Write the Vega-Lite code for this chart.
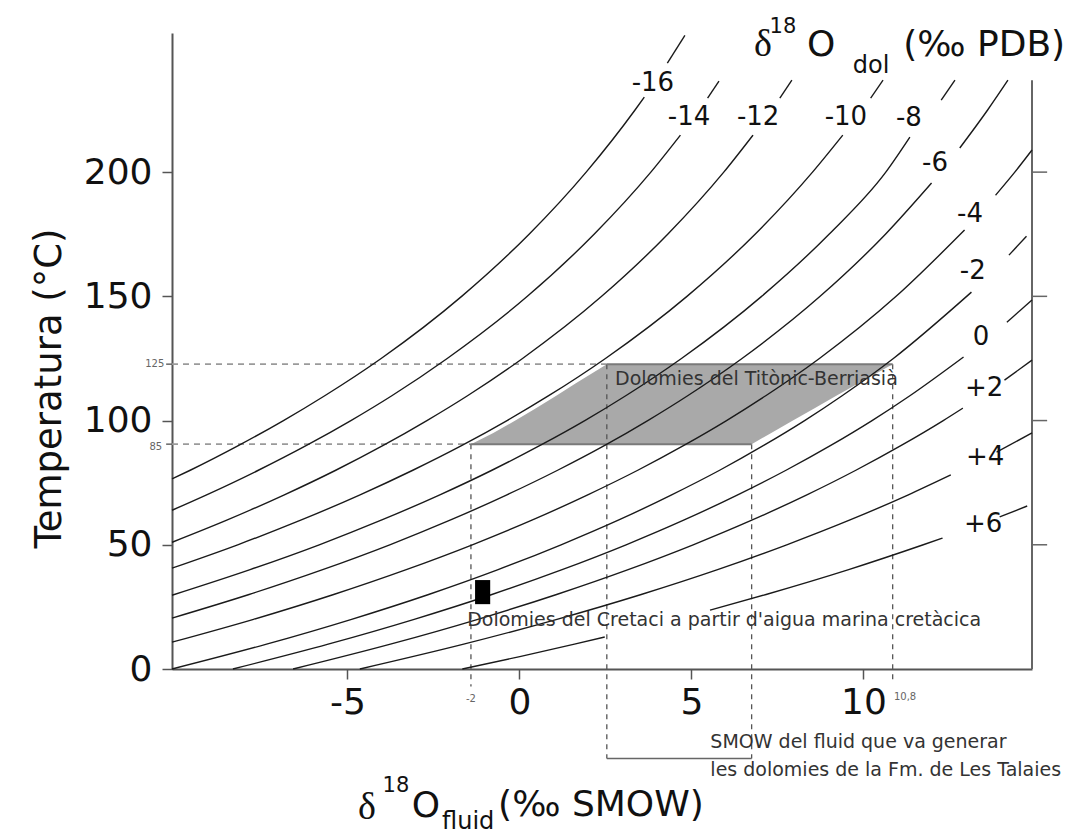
{
  "$schema": "https://vega.github.io/schema/vega-lite/v6.json",
  "width": 860,
  "height": 636,
  "autosize": {"type": "none"},
  "padding": {"left": 172, "top": 33, "right": 38, "bottom": 171},
  "background": "white",
  "config": {"view": {"stroke": null}, "text": {"font": "DejaVu Sans"}},
  "encoding": {
    "x": {"field": "x", "type": "quantitative",
      "scale": {"domain": [-10.1, 14.9], "nice": false, "zero": false},
      "axis": {"values": [-5, 0, 5, 10], "title": null, "grid": false, "tickSize": 10, "labelPadding": 6,
        "labelExpr": "datum.value < 0 ? '-' + abs(datum.value) : datum.label",
        "labelFontSize": 36, "labelFont": "DejaVu Sans", "labelColor": "#111", "domainColor": "#555",
        "domainWidth": 2, "tickColor": "#555", "tickWidth": 1.5, "labelFlush": false}},
    "y": {"field": "T", "type": "quantitative",
      "scale": {"domain": [0, 256], "nice": false, "zero": false},
      "axis": {"values": [0, 50, 100, 150, 200], "title": "Temperatura (°C)", "grid": false, "tickSize": 10,
        "labelPadding": 10, "labelFontSize": 36, "labelFont": "DejaVu Sans", "labelColor": "#111",
        "domainColor": "#555", "domainWidth": 2, "tickColor": "#555", "tickWidth": 1.5,
        "titleFont": "DejaVu Sans", "titleFontSize": 37, "titleFontWeight": "normal", "titleColor": "#111",
        "titleX": -112, "titleY": 355, "titleBaseline": "alphabetic", "titleAngle": -90, "labelFlush": false}}
  },
  "layer": [
    {
      "data": {"values": [
        {"T": 90.5, "x": -1.41, "x2": 6.75},
        {"T": 95, "x": -0.76, "x2": 7.32},
        {"T": 100, "x": -0.12, "x2": 7.95},
        {"T": 105, "x": 0.48, "x2": 8.58},
        {"T": 110, "x": 1.07, "x2": 9.21},
        {"T": 115, "x": 1.64, "x2": 9.86},
        {"T": 122.7, "x": 2.54, "x2": 10.85}
      ]},
      "mark": {"type": "area", "orient": "horizontal", "color": "#a9a9a9", "opacity": 1},
      "encoding": {"x2": {"field": "x2"}}
    },
    {
      "data": {"values": [
        {"x": -10.1, "x2": 2.54, "T": 122.7},
        {"x": -10.1, "x2": -1.41, "T": 90.5}
      ]},
      "mark": {"type": "rule", "color": "#9a9a9a", "strokeWidth": 1.6, "strokeDash": [6, 5]},
      "encoding": {"x2": {"field": "x2"}}
    },
    {
      "data": {"values": [
        {"x": -1.41, "T": 90.5, "T2": -7},
        {"x": 2.54, "T": 122.7, "T2": -36},
        {"x": 6.75, "T": 90.5, "T2": -36},
        {"x": 10.85, "T": 122.7, "T2": -5}
      ]},
      "mark": {"type": "rule", "color": "#555", "strokeWidth": 1.3, "strokeDash": [5, 5]},
      "encoding": {"y2": {"field": "T2"}}
    },
    {
      "data": {"values": [{"x": 2.54, "x2": 6.75, "T": -36}]},
      "mark": {"type": "rule", "color": "#666", "strokeWidth": 1.5},
      "encoding": {"x2": {"field": "x2"}}
    },
    {
      "data": {"values": [
        {"x": 2.54, "x2": 10.85, "T": 122.7},
        {"x": -1.41, "x2": 6.75, "T": 90.5}
      ]},
      "mark": {"type": "rule", "color": "#7a7a7a", "strokeWidth": 2},
      "encoding": {"x2": {"field": "x2"}}
    },
    {
      "data": {"values": [{"x": 14.9, "T": 0, "T2": 237}]},
      "mark": {"type": "rule", "color": "#666", "strokeWidth": 2},
      "encoding": {"y2": {"field": "T2"}}
    },
    {
      "data": {"values": [
        {"x": 14.9, "x2": 15.34, "T": 50},
        {"x": 14.9, "x2": 15.34, "T": 100},
        {"x": 14.9, "x2": 15.34, "T": 150},
        {"x": 14.9, "x2": 15.34, "T": 200},
        {"x": -10.27, "x2": -10.1, "T": 122.7},
        {"x": -10.27, "x2": -10.1, "T": 90.5}
      ]},
      "mark": {"type": "rule", "color": "#666", "strokeWidth": 1.5},
      "encoding": {"x2": {"field": "x2"}}
    },
    {
      "data": {"values": [
        {"k": "m16a", "x": -10.1, "T": 76.5}, {"k": "m16a", "x": -9.57, "T": 80}, {"k": "m16a", "x": -8.16, "T": 90}, {"k": "m16a", "x": -6.86, "T": 100}, {"k": "m16a", "x": -5.66, "T": 110}, {"k": "m16a", "x": -4.02, "T": 125}, {"k": "m16a", "x": -1.68, "T": 150}, {"k": "m16a", "x": 0.28, "T": 175}, {"k": "m16a", "x": 1.94, "T": 200}, {"k": "m16a", "x": 3.36, "T": 225}, {"k": "m16a", "x": 3.63, "T": 230.2},
        {"k": "m16b", "x": 4.3, "T": 243.9}, {"k": "m16b", "x": 4.81, "T": 255},
        {"k": "m14a", "x": -10.1, "T": 63.9}, {"k": "m14a", "x": -9.11, "T": 70}, {"k": "m14a", "x": -7.59, "T": 80}, {"k": "m14a", "x": -6.19, "T": 90}, {"k": "m14a", "x": -4.9, "T": 100}, {"k": "m14a", "x": -3.71, "T": 110}, {"k": "m14a", "x": -2.1, "T": 125}, {"k": "m14a", "x": 0.23, "T": 150}, {"k": "m14a", "x": 2.17, "T": 175}, {"k": "m14a", "x": 3.82, "T": 200}, {"k": "m14a", "x": 4.68, "T": 214.9},
        {"k": "m14b", "x": 5.47, "T": 229.8}, {"k": "m14b", "x": 5.8, "T": 236.6},
        {"k": "m12a", "x": -10.1, "T": 51}, {"k": "m12a", "x": -8.49, "T": 60}, {"k": "m12a", "x": -6.85, "T": 70}, {"k": "m12a", "x": -5.34, "T": 80}, {"k": "m12a", "x": -3.96, "T": 90}, {"k": "m12a", "x": -2.69, "T": 100}, {"k": "m12a", "x": -1.51, "T": 110}, {"k": "m12a", "x": 0.09, "T": 125}, {"k": "m12a", "x": 2.39, "T": 150}, {"k": "m12a", "x": 4.31, "T": 175}, {"k": "m12a", "x": 5.94, "T": 200}, {"k": "m12a", "x": 6.79, "T": 214.9},
        {"k": "m12b", "x": 7.57, "T": 229.8}, {"k": "m12b", "x": 7.92, "T": 237},
        {"k": "m10a", "x": -10.1, "T": 40.6}, {"k": "m10a", "x": -8.19, "T": 50}, {"k": "m10a", "x": -6.34, "T": 60}, {"k": "m10a", "x": -4.65, "T": 70}, {"k": "m10a", "x": -3.1, "T": 80}, {"k": "m10a", "x": -1.67, "T": 90}, {"k": "m10a", "x": -0.36, "T": 100}, {"k": "m10a", "x": 0.85, "T": 110}, {"k": "m10a", "x": 2.5, "T": 125}, {"k": "m10a", "x": 4.87, "T": 150}, {"k": "m10a", "x": 6.85, "T": 175}, {"k": "m10a", "x": 8.52, "T": 200}, {"k": "m10a", "x": 9.4, "T": 214.9},
        {"k": "m10b", "x": 10.21, "T": 229.8}, {"k": "m10b", "x": 10.57, "T": 237},
        {"k": "m8a", "x": -10.1, "T": 29.7}, {"k": "m8a", "x": -7.83, "T": 40}, {"k": "m8a", "x": -5.82, "T": 50}, {"k": "m8a", "x": -4.0, "T": 60}, {"k": "m8a", "x": -2.33, "T": 70}, {"k": "m8a", "x": -0.8, "T": 80}, {"k": "m8a", "x": 0.6, "T": 90}, {"k": "m8a", "x": 1.9, "T": 100}, {"k": "m8a", "x": 3.09, "T": 110}, {"k": "m8a", "x": 4.71, "T": 125}, {"k": "m8a", "x": 7.04, "T": 150}, {"k": "m8a", "x": 9.0, "T": 175}, {"k": "m8a", "x": 10.65, "T": 200}, {"k": "m8a", "x": 11.35, "T": 214.1},
        {"k": "m8b", "x": 12.26, "T": 229}, {"k": "m8b", "x": 12.66, "T": 237},
        {"k": "m6a", "x": -10.1, "T": 20.5}, {"k": "m6a", "x": -7.86, "T": 30}, {"k": "m6a", "x": -5.72, "T": 40}, {"k": "m6a", "x": -3.77, "T": 50}, {"k": "m6a", "x": -2.0, "T": 60}, {"k": "m6a", "x": -0.38, "T": 70}, {"k": "m6a", "x": 1.11, "T": 80}, {"k": "m6a", "x": 2.48, "T": 90}, {"k": "m6a", "x": 3.73, "T": 100}, {"k": "m6a", "x": 4.89, "T": 110}, {"k": "m6a", "x": 6.47, "T": 125}, {"k": "m6a", "x": 8.74, "T": 150}, {"k": "m6a", "x": 10.64, "T": 175}, {"k": "m6a", "x": 11.98, "T": 195.6},
        {"k": "m6b", "x": 12.8, "T": 209.7}, {"k": "m6b", "x": 13.61, "T": 225}, {"k": "m6b", "x": 14.2, "T": 237},
        {"k": "m4a", "x": -10.1, "T": 10.8}, {"k": "m4a", "x": -7.73, "T": 20}, {"k": "m4a", "x": -5.4, "T": 30}, {"k": "m4a", "x": -3.29, "T": 40}, {"k": "m4a", "x": -1.37, "T": 50}, {"k": "m4a", "x": 0.38, "T": 60}, {"k": "m4a", "x": 1.97, "T": 70}, {"k": "m4a", "x": 3.44, "T": 80}, {"k": "m4a", "x": 4.78, "T": 90}, {"k": "m4a", "x": 6.02, "T": 100}, {"k": "m4a", "x": 7.16, "T": 110}, {"k": "m4a", "x": 8.72, "T": 125}, {"k": "m4a", "x": 10.95, "T": 150}, {"k": "m4a", "x": 12.94, "T": 176.7},
        {"k": "m4b", "x": 13.84, "T": 190.7}, {"k": "m4b", "x": 14.4, "T": 200}, {"k": "m4b", "x": 14.9, "T": 208.9},
        {"k": "m2a", "x": -10.1, "T": 0}, {"k": "m2a", "x": -7.35, "T": 10}, {"k": "m2a", "x": -4.88, "T": 20}, {"k": "m2a", "x": -2.64, "T": 30}, {"k": "m2a", "x": -0.62, "T": 40}, {"k": "m2a", "x": 1.21, "T": 50}, {"k": "m2a", "x": 2.89, "T": 60}, {"k": "m2a", "x": 4.41, "T": 70}, {"k": "m2a", "x": 5.82, "T": 80}, {"k": "m2a", "x": 7.1, "T": 90}, {"k": "m2a", "x": 8.29, "T": 100}, {"k": "m2a", "x": 9.38, "T": 110}, {"k": "m2a", "x": 10.87, "T": 125}, {"k": "m2a", "x": 13.14, "T": 151.7},
        {"k": "m2b", "x": 14.23, "T": 166.6}, {"k": "m2b", "x": 14.74, "T": 174.2},
        {"k": "z0a", "x": -8.33, "T": 0}, {"k": "z0a", "x": -5.56, "T": 10}, {"k": "z0a", "x": -3.06, "T": 20}, {"k": "z0a", "x": -0.8, "T": 30}, {"k": "z0a", "x": 1.24, "T": 40}, {"k": "z0a", "x": 3.1, "T": 50}, {"k": "z0a", "x": 4.79, "T": 60}, {"k": "z0a", "x": 6.33, "T": 70}, {"k": "z0a", "x": 7.75, "T": 80}, {"k": "z0a", "x": 9.05, "T": 90}, {"k": "z0a", "x": 10.25, "T": 100}, {"k": "z0a", "x": 11.35, "T": 110}, {"k": "z0a", "x": 12.91, "T": 125.6},
        {"k": "z0b", "x": 14.17, "T": 139.6}, {"k": "z0b", "x": 14.9, "T": 148.5},
        {"k": "p2a", "x": -6.58, "T": 0}, {"k": "p2a", "x": -3.75, "T": 10}, {"k": "p2a", "x": -1.21, "T": 20}, {"k": "p2a", "x": 1.08, "T": 30}, {"k": "p2a", "x": 3.16, "T": 40}, {"k": "p2a", "x": 5.05, "T": 50}, {"k": "p2a", "x": 6.77, "T": 60}, {"k": "p2a", "x": 8.34, "T": 70}, {"k": "p2a", "x": 9.78, "T": 80}, {"k": "p2a", "x": 11.1, "T": 90}, {"k": "p2a", "x": 12.32, "T": 100}, {"k": "p2a", "x": 12.89, "T": 105},
        {"k": "p2b", "x": 14.1, "T": 116.3}, {"k": "p2b", "x": 14.9, "T": 124.3},
        {"k": "p4a", "x": -4.64, "T": 0}, {"k": "p4a", "x": -1.62, "T": 10}, {"k": "p4a", "x": 1.09, "T": 20}, {"k": "p4a", "x": 3.54, "T": 30}, {"k": "p4a", "x": 5.76, "T": 40}, {"k": "p4a", "x": 7.77, "T": 50}, {"k": "p4a", "x": 9.61, "T": 60}, {"k": "p4a", "x": 11.29, "T": 70}, {"k": "p4a", "x": 12.54, "T": 78.1},
        {"k": "p4b", "x": 13.87, "T": 87.3}, {"k": "p4b", "x": 14.9, "T": 95},
        {"k": "p6a", "x": -1.66, "T": 0}, {"k": "p6a", "x": 0.01, "T": 5}, {"k": "p6a", "x": 1.6, "T": 10}, {"k": "p6a", "x": 2.48, "T": 12.9},
        {"k": "p6b", "x": 5.54, "T": 23.7}, {"k": "p6b", "x": 7.17, "T": 30}, {"k": "p6b", "x": 9.57, "T": 40}, {"k": "p6b", "x": 11.74, "T": 50}, {"k": "p6b", "x": 12.3, "T": 52.7},
        {"k": "p6c", "x": 13.96, "T": 61.2}, {"k": "p6c", "x": 14.76, "T": 65.6}
      ]},
      "mark": {"type": "line", "color": "#1a1a1a", "strokeWidth": 1.4, "interpolate": "monotone"},
      "encoding": {"detail": {"field": "k"}}
    },
    {
      "data": {"values": [{"x": -1.29, "x2": -0.85, "T": 26.1, "T2": 35.8}]},
      "mark": {"type": "rect", "color": "#000"},
      "encoding": {"x2": {"field": "x2"}, "y2": {"field": "T2"}}
    },
    {
      "data": {"values": [
        {"x": 3.88, "T": 235.8, "t": "-16"}, {"x": 4.93, "T": 222.1, "t": "-14"}, {"x": 6.94, "T": 222.1, "t": "-12"},
        {"x": 9.49, "T": 222.1, "t": "-10"}, {"x": 11.32, "T": 221.7, "t": "-8"}, {"x": 12.08, "T": 203.6, "t": "-6"},
        {"x": 13.1, "T": 183.1, "t": "-4"}, {"x": 13.18, "T": 160.2, "t": "-2"}, {"x": 13.42, "T": 133.6, "t": "0"},
        {"x": 13.51, "T": 113.1, "t": "+2"}, {"x": 13.54, "T": 85.3, "t": "+4"}, {"x": 13.48, "T": 58.4, "t": "+6"}
      ]},
      "mark": {"type": "text", "fontSize": 26, "color": "#111"},
      "encoding": {"text": {"field": "t"}}
    },
    {
      "data": {"values": [
        {"x": 2.78, "T": 116.7, "t": "Dolomies del Titònic-Berriasià"},
        {"x": -1.52, "T": 19.7, "t": "Dolomies del Cretaci a partir d'aigua marina cretàcica"},
        {"x": 5.55, "T": -29.2, "t": "SMOW del fluid que va generar"},
        {"x": 5.55, "T": -40.6, "t": "les dolomies de la Fm. de Les Talaies"}
      ]},
      "mark": {"type": "text", "fontSize": 19, "align": "left", "color": "#333"},
      "encoding": {"text": {"field": "t"}}
    },
    {
      "data": {"values": [
        {"x": -1.41, "T": -12.1, "t": "-2"},
        {"x": 11.21, "T": -11.3, "t": "10,8"},
        {"x": -10.6, "T": 122.7, "t": "125"},
        {"x": -10.57, "T": 89.5, "t": "85"}
      ]},
      "mark": {"type": "text", "fontSize": 10, "color": "#666"},
      "encoding": {"text": {"field": "t"}}
    },
    {
      "data": {"values": [
        {"x": 7.08, "T": 251.1, "t": "δ"},
        {"x": -4.43, "T": -55.9, "t": "δ"}
      ]},
      "mark": {"type": "text", "fontSize": 38, "color": "#111", "font": "Liberation Serif"},
      "encoding": {"text": {"field": "t"}}
    },
    {
      "data": {"values": [
        {"x": 8.77, "T": 251.1, "t": "O"},
        {"x": 13.51, "T": 251.1, "t": "(‰ PDB)"},
        {"x": -2.72, "T": -55.1, "t": "O"},
        {"x": 2.37, "T": -54.7, "t": "(‰ SMOW)"}
      ]},
      "mark": {"type": "text", "fontSize": 36, "color": "#111"},
      "encoding": {"text": {"field": "t"}}
    },
    {
      "data": {"values": [
        {"x": 7.66, "T": 258.3, "t": "18"},
        {"x": -3.59, "T": -47.1, "t": "18"}
      ]},
      "mark": {"type": "text", "fontSize": 21, "color": "#111"},
      "encoding": {"text": {"field": "t"}}
    },
    {
      "data": {"values": [
        {"x": 10.22, "T": 242.7, "t": "dol"},
        {"x": -1.49, "T": -61.6, "t": "fluid"}
      ]},
      "mark": {"type": "text", "fontSize": 24, "color": "#111"},
      "encoding": {"text": {"field": "t"}}
    }
  ]
}
